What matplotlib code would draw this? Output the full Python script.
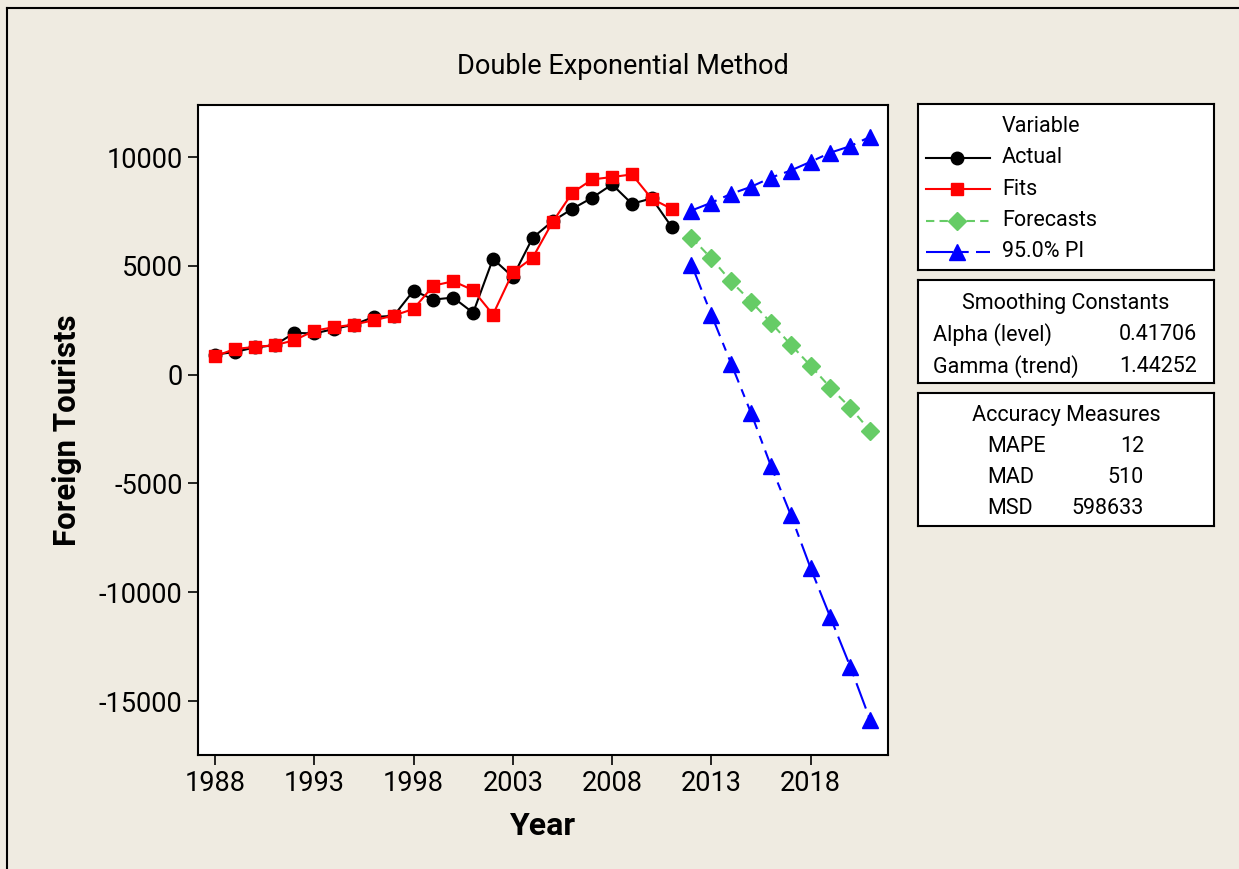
import matplotlib
matplotlib.use("Agg")
import matplotlib.pyplot as plt
from matplotlib.lines import Line2D

plt.rcParams["font.family"] = ["Roboto", "DejaVu Sans"]
plt.rcParams["axes.unicode_minus"] = False

# Data
years_actual = list(range(1988, 2012))
actual = [920, 1040, 1250, 1350, 1920, 1890, 2100, 2300, 2650, 2700,
          3860, 3450, 3540, 2840, 5320, 4490, 6290, 7050, 7620, 8130,
          8740, 7850, 8100, 6790]
fits = [840, 1180, 1270, 1350, 1580, 2020, 2180, 2300, 2500, 2710,
        3020, 4090, 4290, 3880, 2760, 4700, 5370, 7010, 8360, 8970,
        9080, 9200, 8080, 7620]
years_fc = list(range(2012, 2022))
forecasts = [6300, 5340, 4280, 3360, 2390, 1380, 410, -600, -1520, -2580]
pi_upper = [7540, 7900, 8310, 8630, 9050, 9380, 9780, 10200, 10500, 10930]
pi_lower = [5060, 2760, 500, -1760, -4190, -6440, -8890, -11160, -13420, -15870]

x_ticks = [1988, 1993, 1998, 2003, 2008, 2013, 2018]
y_ticks = [10000, 5000, 0, -5000, -10000, -15000]

smoothing = [("Alpha (level)", "0.41706"), ("Gamma (trend)", "1.44252")]
accuracy = [("MAPE", "12"), ("MAD", "510"), ("MSD", "598633")]

BG = "#efebe1"
RED = "#ff0000"
GREEN = "#66cc66"
BLUE = "#0000ff"

W, H = 1239, 869
fig = plt.figure(figsize=(W / 100, H / 100), dpi=100, facecolor=BG)


def box(x0, y0, x1, y1):
    """Axes placed by pixel coords (top-left origin)."""
    return fig.add_axes([x0 / W, 1 - y1 / H, (x1 - x0) / W, (y1 - y0) / H])


ax = box(198, 105, 888, 755)
ax.set_facecolor("white")

style_actual = dict(color="black", lw=1.5, marker="o", ms=9)
style_fits = dict(color=RED, lw=1.5, marker="s", ms=9)
style_fc = dict(color=GREEN, lw=1.5, ls=(0, (4, 2.5)), marker="D", ms=9)
style_pi = dict(color=BLUE, lw=1.5, ls=(0, (13, 3.5, 4, 3.5)), marker="^", ms=12)

ax.plot(years_actual, actual, **style_actual)
ax.plot(years_actual, fits, **style_fits)
ax.plot(years_fc, forecasts, **style_fc)
ax.plot(years_fc, pi_upper, **style_pi)
ax.plot(years_fc, pi_lower, **style_pi)

ax.set_xlim(1987.14, 2021.9)
ax.set_ylim(-17480, 12390)
ax.set_xticks(x_ticks)
ax.set_yticks(y_ticks)
ax.tick_params(axis="both", direction="out", length=7, width=1.2,
               labelsize=19.5, top=False, right=False, pad=4)
for s in ax.spines.values():
    s.set_linewidth(1.5)

ax.set_xlabel("Year", fontsize=23, fontweight="bold", labelpad=10)
ax.set_ylabel("Foreign Tourists", fontsize=22.5, fontweight="bold", labelpad=12)
fig.text(623 / W, 1 - 66 / H, "Double Exponential Method", fontsize=19.5,
         ha="center", va="center")


# Side panels
def panel(x0, y0, x1, y1):
    p = box(x0, y0, x1, y1)
    p.set_xlim(x0, x1)
    p.set_ylim(y1, y0)
    p.set_xticks([])
    p.set_yticks([])
    p.set_facecolor("white")
    for s in p.spines.values():
        s.set_linewidth(1.5)
    return p


fs = 15.5
leg = panel(918, 104, 1214, 270)
leg.text(1002, 127, "Variable", fontsize=fs, va="center")
entries = [("Actual", style_actual), ("Fits", style_fits),
           ("Forecasts", style_fc), ("95.0% PI", style_pi)]
for i, (name, st) in enumerate(entries):
    yy = 158 + i * 31.3
    leg.add_line(Line2D([926, 990], [yy, yy], **{k: v for k, v in st.items()
                                                    if k not in ("marker", "ms")}))
    leg.plot([957], [yy], marker=st["marker"], ms=st["ms"], color=st["color"], ls="none")
    leg.text(1002, yy, name, fontsize=fs, va="center")

sm = panel(918, 280, 1214, 383)
sm.text(1066, 303, "Smoothing Constants", fontsize=fs, ha="center", va="center")
for i, (lab, val) in enumerate(smoothing):
    yy = 335 + i * 31.5
    sm.text(933, yy, lab, fontsize=fs, va="center")
    sm.text(1197, yy, val, fontsize=fs, va="center", ha="right")

acc = panel(918, 393, 1214, 526)
acc.text(1066, 415, "Accuracy Measures", fontsize=fs, ha="center", va="center")
for i, (lab, val) in enumerate(accuracy):
    yy = 446 + i * 31.5
    acc.text(987, yy, lab, fontsize=fs, va="center")
    acc.text(1144, yy, val, fontsize=fs, va="center", ha="right")

# Frame lines on the left and top edges of the image
fig.add_artist(Line2D([7 / W, 7 / W], [0, 1 - 8 / H], color="black", lw=1.5))
fig.add_artist(Line2D([7 / W, 1], [1 - 8 / H, 1 - 8 / H], color="black", lw=1.5))

fig.savefig("out.png", dpi=100, facecolor=BG)
